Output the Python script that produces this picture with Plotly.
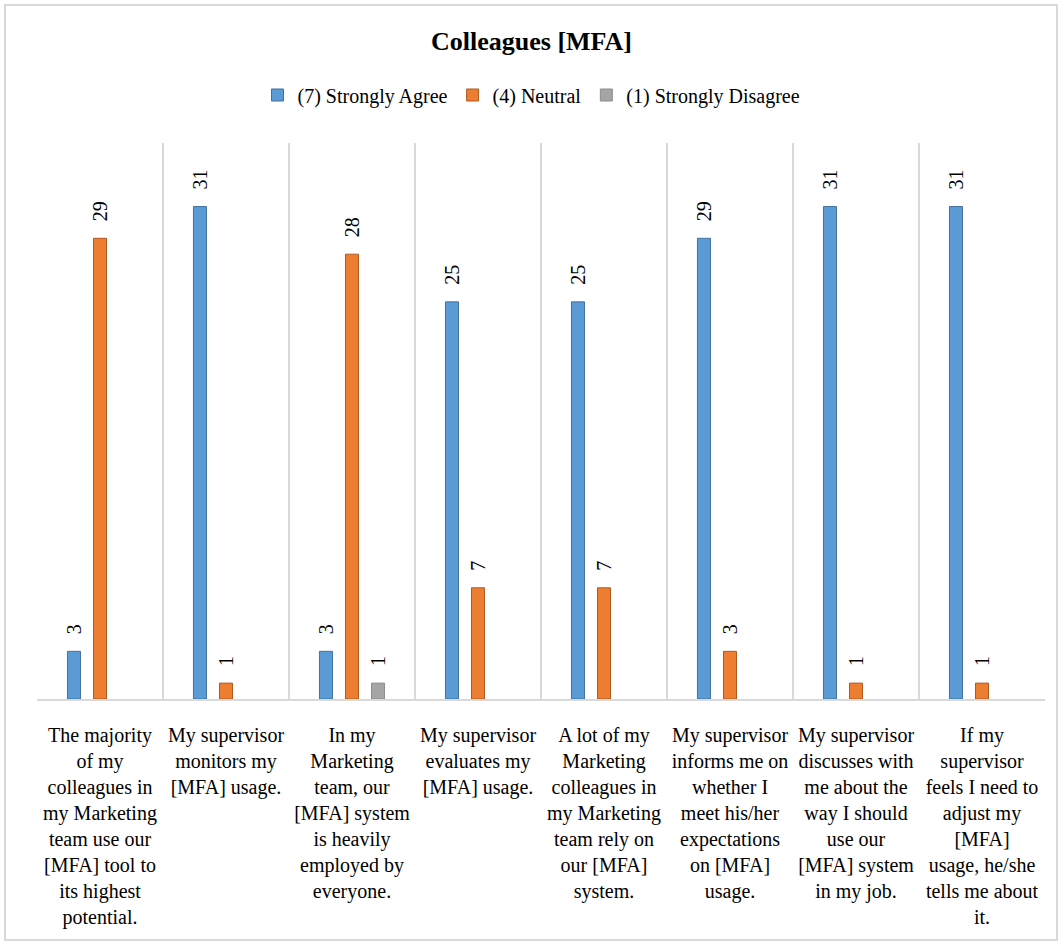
import plotly.graph_objects as go

categories = [
    "The majority<br>of my<br>colleagues in<br>my Marketing<br>team use our<br>[MFA] tool to<br>its highest<br>potential.",
    "My supervisor<br>monitors my<br>[MFA] usage.",
    "In my<br>Marketing<br>team, our<br>[MFA] system<br>is heavily<br>employed by<br>everyone.",
    "My supervisor<br>evaluates my<br>[MFA] usage.",
    "A lot of my<br>Marketing<br>colleagues in<br>my Marketing<br>team rely on<br>our [MFA]<br>system.",
    "My supervisor<br>informs me on<br>whether I<br>meet his/her<br>expectations<br>on [MFA]<br>usage.",
    "My supervisor<br>discusses with<br>me about the<br>way I should<br>use our<br>[MFA] system<br>in my job.",
    "If my<br>supervisor<br>feels I need to<br>adjust my<br>[MFA]<br>usage, he/she<br>tells me about<br>it.",
]
series_names = ["(7) Strongly Agree", "(4) Neutral", "(1) Strongly Disagree"]
strongly_agree = [3, 31, 3, 25, 25, 29, 31, 31]
neutral = [29, 1, 28, 7, 7, 3, 1, 1]
strongly_disagree = [None, None, 1, None, None, None, None, None]

colors = ["#5B9BD5", "#ED7D31", "#A5A5A5"]
edge = ["#41719C", "#AE5A21", "#8C8C8C"]
FONT = "Liberation Serif, Times New Roman, serif"
PAD = "\u00a0\u00a0\u2009"

fig = go.Figure()
for name, vals, c, e in zip(series_names, [strongly_agree, neutral, strongly_disagree], colors, edge):
    fig.add_trace(go.Bar(
        x=categories, y=vals, name=name,
        marker=dict(color=c, line=dict(color=e, width=1)),
        text=[("" if v is None else PAD + str(v)) for v in vals],
        textposition="outside", textangle=-90, constraintext="none",
        textfont=dict(family=FONT, size=20, color="#000000"),
        cliponaxis=False,
    ))

W, H = 1063, 945
L, R, T, B = 37, 18, 143, 246
pw, ph = W - L - R, H - T - B

def px_x(p):
    return (p - L) / pw

def px_y(p):
    return (H - B - p) / ph

fig.update_layout(
    width=W, height=H,
    margin=dict(l=L, r=R, t=T, b=B),
    paper_bgcolor="white", plot_bgcolor="white",
    barmode="group", bargap=0.38, bargroupgap=0.5,
    font=dict(family=FONT, size=20, color="#000000"),
    title=dict(text="<b>Colleagues [MFA]</b>", x=0.5, xanchor="center",
               y=1 - 41 / H, yanchor="middle", yref="container",
               font=dict(family=FONT, size=26, color="#000000")),
    legend=dict(orientation="h", x=0.5, xanchor="center", xref="container",
                y=1 - 95 / H, yanchor="middle", yref="container",
                font=dict(family=FONT, size=20, color="#000000"),
                itemclick=False, traceorder="normal"),
    xaxis=dict(type="category", tickson="boundaries", showgrid=True,
               gridcolor="#D9D9D9", gridwidth=1.5,
               showline=True, linecolor="#D9D9D9", linewidth=1.5,
               ticks="", ticklabelstandoff=17,
               tickangle=0, tickfont=dict(family=FONT, size=20, color="#000000")),
    yaxis=dict(range=[0, 35], visible=False, showgrid=False, zeroline=False),
    shapes=[dict(type="rect", xref="paper", yref="paper",
                 x0=px_x(5), x1=px_x(1057), y0=px_y(940), y1=px_y(5),
                 line=dict(color="#D9D9D9", width=2), fillcolor="rgba(0,0,0,0)",
                 layer="below")],
)

fig.write_html("out.html")
